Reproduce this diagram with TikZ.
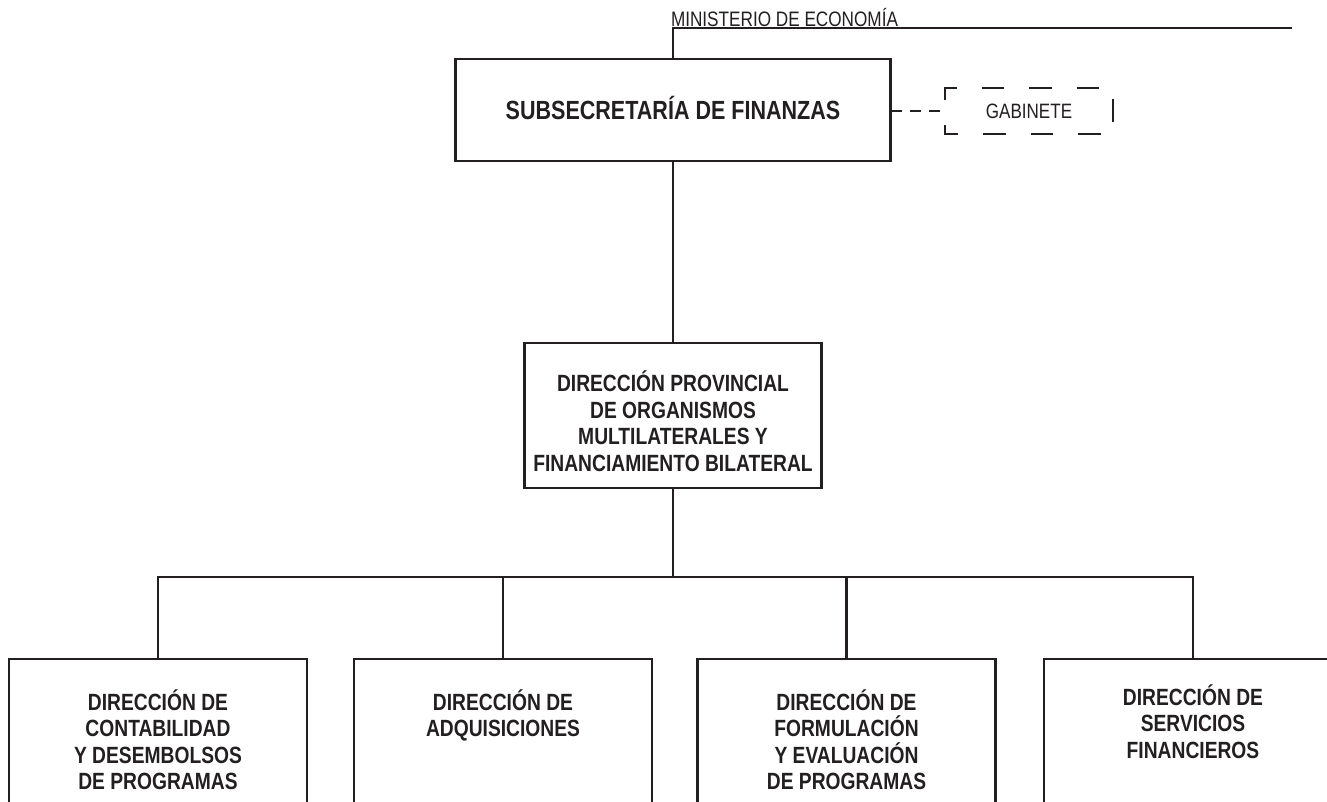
\documentclass[tikz,border=0pt]{standalone}
\usepackage{fontspec}
\setmainfont{Liberation Sans}[FakeStretch=0.82]
\usetikzlibrary{calc}
\definecolor{ink}{RGB}{35,31,32}
\begin{document}
\begin{tikzpicture}[x=0.75pt,y=-0.75pt,
  lin/.style={draw=ink,line width=2.05pt},
  box/.style={lin,rectangle,inner sep=0pt,outer sep=0pt},
  bfont/.style={font=\fontsize{17.6pt}{19.9pt}\selectfont\bfseries},
  btxt/.style={bfont,inner sep=0pt,outer sep=0pt,align=center,text=ink},
  rtxt/.style={inner sep=0pt,outer sep=0pt,text=ink,font=\fontsize{15.7pt}{18pt}\selectfont},
  lowbox/.style={box,minimum width=223.5pt,minimum height=120.75pt},
  gabline/.style={lin,dash pattern=on 16.875pt off 18.75pt},
  conline/.style={lin,dash pattern=on 8.25pt off 6pt}
]
\useasboundingbox (0,0) rectangle (1327,801);

% top level
\node[box,minimum width=326.25pt,minimum height=76.5pt,text=ink,
      font=\fontsize{19.7pt}{22pt}\selectfont\bfseries,
      text height=14.1pt,text depth=0pt] (sub) at (673,110) {SUBSECRETARÍA DE FINANZAS};
\node[rtxt,anchor=base west] (min) at (671,26) {MINISTERIO DE ECONOMÍA};
\coordinate (mend) at (1292,28);
\draw[lin] (sub.north) |- (mend);

% gabinete
\node[rectangle,inner sep=0pt,outer sep=0pt,minimum width=126pt,minimum height=34.5pt,
      text=ink,font=\fontsize{15.6pt}{18pt}\selectfont,text height=11.2pt,text depth=0pt] (gab) at (1029,111) {GABINETE};
\draw[gabline] ($(gab.north west)+(0,11)$) -- (gab.north west) -- (gab.north east)
   -- (gab.south east) -- (gab.south west) -- cycle;
\draw[conline] (sub.east |- gab.west) -- (gab.west);

% direccion provincial
\node[box,minimum width=222.75pt,minimum height=108.75pt] (dp) at (673,415.5) {};
\node[btxt,anchor=north] (dpt) at ($(dp.north)+(0,28)$)
  {DIRECCIÓN PROVINCIAL\\DE ORGANISMOS\\MULTILATERALES Y\\FINANCIAMIENTO BILATERAL};
\draw[lin] (sub.south) -- (dp.north);

% bottom boxes
\node[lowbox] (d1) at (158,739.5) {};
\node[lowbox] (d2) at (503,739.5) {};
\node[lowbox] (d3) at (846.5,739.5) {};
\node[lowbox] (d4) at (1193,739.5) {};
\node[btxt,anchor=north] (t1) at ($(d1.north)+(0,30.5)$)
  {DIRECCIÓN DE\\CONTABILIDAD\\Y DESEMBOLSOS\\DE PROGRAMAS};
\node[btxt,anchor=north] (t2) at ($(d2.north)+(0,30.5)$)
  {DIRECCIÓN DE\\ADQUISICIONES};
\node[btxt,anchor=north] (t3) at ($(d3.north)+(0,30.5)$)
  {DIRECCIÓN DE\\FORMULACIÓN\\Y EVALUACIÓN\\DE PROGRAMAS};
\node[btxt,anchor=north] (t4) at ($(d4.north)+(0,25.5)$)
  {DIRECCIÓN DE\\SERVICIOS\\FINANCIEROS};

% bus
\coordinate (bus) at (673,577);
\draw[lin] (dp.south) -- (bus);
\draw[lin] (d1.north) |- (bus) -| (d4.north);
\draw[lin] (d2.north) -- (d2.north |- bus);
\draw[lin] (d3.north) -- (d3.north |- bus);
\end{tikzpicture}
\end{document}
